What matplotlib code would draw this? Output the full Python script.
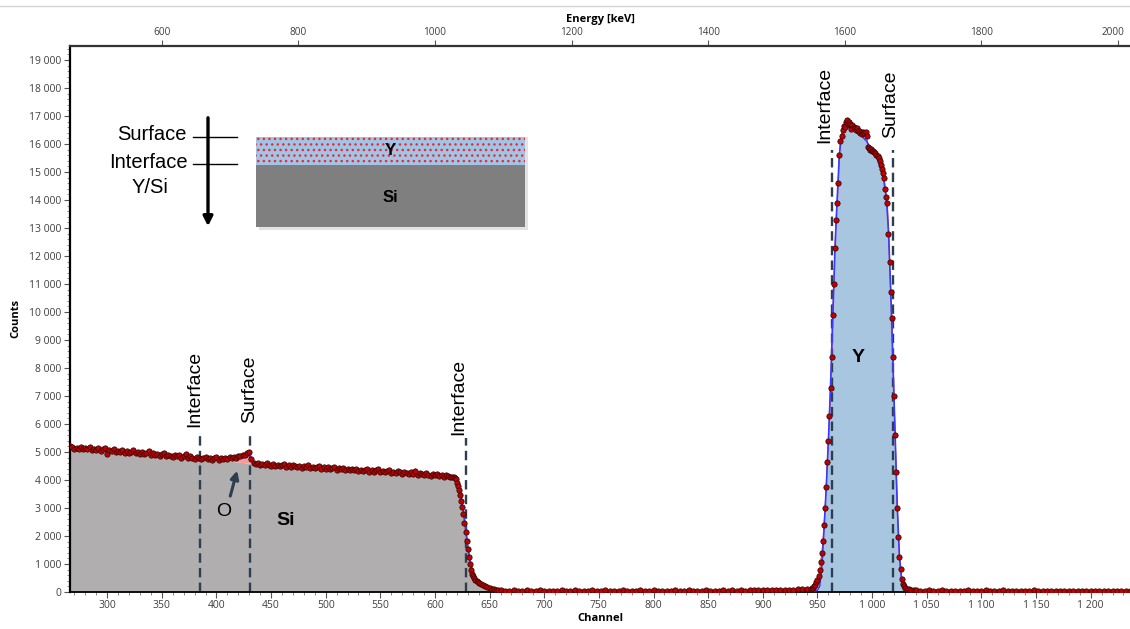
import numpy as np
import matplotlib.pyplot as plt
from matplotlib.patches import Rectangle
from matplotlib.lines import Line2D
from matplotlib.ticker import MultipleLocator, FuncFormatter
from matplotlib.transforms import ScaledTranslation

# ---- measured spectrum (channel, counts) ----
si_ch = list(range(266, 618, 2))
si_counts = [
    5230, 5180, 5120, 5160, 5100, 5170, 5090, 5140, 5110, 5170,
    5060, 5120, 5080, 5150, 5040, 5100, 5130, 4930, 5070, 5020,
    5090, 4990, 5040, 5000, 5060, 4980, 5030, 4960, 5010, 5070,
    4950, 5000, 4940, 4990, 4920, 4970, 5020, 4900, 4960, 4880,
    4940, 4870, 4920, 4960, 4850, 4910, 4860, 4830, 4900, 4840,
    4880, 4800, 4860, 4920, 4790, 4850, 4800, 4760, 4830, 4770,
    4740, 4790, 4830, 4750, 4800, 4720, 4770, 4810, 4730, 4780,
    4750, 4800, 4760, 4810, 4780, 4830, 4800, 4850, 4870, 4880,
    4900, 4950, 5000, 4760, 4620, 4570, 4600, 4540, 4580, 4520,
    4590, 4540, 4510, 4560, 4500, 4550, 4490, 4530, 4570, 4480,
    4520, 4470, 4540, 4490, 4460, 4510, 4440, 4500, 4470, 4530,
    4430, 4480, 4420, 4470, 4500, 4410, 4460, 4400, 4450, 4380,
    4430, 4470, 4370, 4420, 4380, 4440, 4360, 4400, 4340, 4390,
    4350, 4410, 4330, 4370, 4310, 4360, 4400, 4300, 4350, 4290,
    4340, 4380, 4280, 4330, 4270, 4320, 4360, 4260, 4300, 4250,
    4310, 4270, 4220, 4290, 4240, 4200, 4270, 4230, 4320, 4190,
    4240, 4210, 4180, 4250, 4190, 4150, 4220, 4170, 4200, 4140,
    4180, 4120, 4170, 4130, 4090, 4120,
]

edge_ch = [617, 618, 619, 620, 621, 622, 623, 624, 625, 626, 627, 628, 629, 630,
           631, 632, 633, 634, 635, 636, 637, 638, 639, 640, 642, 644, 646, 648,
           650, 652, 654, 656, 658, 660]
edge_counts = [4100, 4080, 4020, 3900, 3780, 3640, 3480, 3260, 3020, 2800, 2480,
               2150, 1820, 1520, 1240, 1000, 800, 660, 560, 490, 430, 390, 350,
               320, 280, 240, 210, 180, 150, 120, 100, 85, 70, 60]

gap_ch = list(range(664, 945, 4))
gap_counts = [52, 45, 58, 40, 49, 55, 43, 50, 61, 44, 47, 53, 39, 56, 48, 42,
              57, 46, 51, 44, 60, 41, 49, 54, 45, 50, 38, 58, 47, 52, 43, 55,
              49, 41, 57, 46, 53, 44, 50, 59, 42, 48, 55, 45, 51, 40, 56, 47,
              53, 44, 58, 49, 62, 46, 55, 50, 64, 57, 70, 61, 66, 72, 68, 75,
              80, 78, 85, 90, 98, 105, 115]

peak_ch = list(range(945, 1031)) + [1032, 1034, 1036, 1038]
peak_counts = [
    130, 160, 200, 260, 340, 430, 560, 780, 1080, 1400,
    1820, 2400, 3000, 3750, 4650, 5400, 6300, 7300, 8400, 9900,
    11000, 12300, 13300, 13900, 14600, 15600, 16100, 16300, 16500, 16650,
    16600, 16800, 16850, 16700, 16780, 16720, 16550, 16680, 16620, 16580,
    16500, 16560, 16450, 16480, 16400, 16430, 16350, 16440, 16380, 16420,
    16300, 15900, 15850, 15780, 15820, 15760, 15740, 15700, 15680, 15600,
    15560, 15500, 15380, 15250, 15100, 14950, 14780, 14400, 14100, 13900,
    12800, 11800, 10700, 9800, 8400, 7000, 5600, 4300, 3000, 1950,
    1250, 820, 480, 300, 200, 150, 110, 90, 75, 65,
]

tail_ch = list(range(1040, 1237, 4))
tail_counts = [58, 52, 47, 55, 44, 50, 57, 42, 49, 53, 46, 40, 55, 48, 51, 43,
               56, 45, 50, 38, 54, 47, 42, 52, 45, 49, 41, 55, 46, 50, 39, 53,
               44, 48, 42, 51, 45, 40, 49, 43, 52, 41, 47, 44, 38, 50, 42, 46,
               40, 45]

# ---- simulation (total) ----
sim_ch = [266, 300, 350, 385, 400, 410, 420, 425, 430, 432, 434, 436, 450, 500,
          550, 600, 612, 617, 620, 623, 626, 628, 630, 632, 634, 636, 640, 645,
          650, 655, 660, 700, 800, 900, 948, 950, 952, 954, 956, 958, 960, 962,
          964, 966, 968, 970, 972, 975, 980, 985, 990, 995, 1000, 1005, 1010,
          1013, 1015, 1017, 1019, 1021, 1023, 1025, 1027, 1029, 1032, 1036,
          1050, 1236]
sim_counts = [5150, 5030, 4870, 4760, 4740, 4760, 4800, 4850, 4920, 4780, 4620,
              4580, 4550, 4420, 4310, 4180, 4140, 4080, 3950, 3550, 2900, 2300,
              1650, 1150, 800, 580, 380, 230, 130, 80, 50, 45, 45, 45, 45, 60,
              200, 900, 2200, 3700, 5400, 7400, 9800, 12200, 14000, 15600,
              16300, 16550, 16600, 16450, 16300, 16100, 15750, 15450, 14900,
              14100, 12900, 10800, 8300, 5700, 3100, 1300, 450, 180, 80, 50,
              45, 45]

# ---- components ----
si_comp_ch = [266, 300, 350, 385, 395, 400, 410, 420, 425, 430, 432, 434, 436,
              450, 500, 550, 600, 612, 617, 620, 623, 626, 628, 630, 632, 634,
              636, 640, 645, 650, 655, 660, 670]
si_comp_counts = [5150, 5030, 4870, 4760, 4745, 4720, 4680, 4640, 4620, 4600,
                  4590, 4585, 4580, 4550, 4420, 4310, 4180, 4140, 4080, 3950,
                  3550, 2900, 2300, 1650, 1150, 800, 580, 380, 230, 130, 80,
                  50, 0]
o_ch = [395, 400, 410, 420, 425, 430, 432, 434, 436]
o_top = [4750, 4740, 4760, 4800, 4850, 4920, 4780, 4620, 4580]
o_bottom = [4745, 4720, 4680, 4640, 4620, 4600, 4590, 4585, 4580]
y_comp_ch = [948, 950, 952, 954, 956, 958, 960, 962, 964, 966, 968, 970, 972,
             975, 980, 985, 990, 995, 1000, 1005, 1010, 1013, 1015, 1017, 1019,
             1021, 1023, 1025, 1027, 1029, 1032, 1036]
y_comp_counts = [0, 20, 160, 860, 2160, 3660, 5360, 7360, 9760, 12160, 13960,
                 15560, 16260, 16510, 16560, 16410, 16260, 16060, 15710, 15410,
                 14860, 14060, 12860, 10760, 8260, 5660, 3060, 1260, 410, 140,
                 30, 0]

# ---- annotations ----
marker_ch = [385, 431, 628, 963, 1019]
marker_top = [5640, 5640, 5500, 15790, 15790]
label_txt = ['Interface', 'Surface', 'Interface', 'Interface', 'Surface']
label_ch = [380, 430, 622, 957, 1017]
label_y = [5890, 6040, 5610, 16040, 16210]

W, H = 1130, 629
fig = plt.figure(figsize=(W / 100, H / 100), dpi=100)
ax = fig.add_axes([70 / W, 1 - 592 / H, (W - 70) / W, (592 - 46) / H])

ax.fill_between(si_comp_ch, si_comp_counts, color='#b0aeae', lw=0, zorder=1)
ax.fill_between(o_ch, o_bottom, o_top, color='#f59a9a', lw=0, zorder=1)
ax.fill_between(y_comp_ch, y_comp_counts, color='#a9c6e0', lw=0, zorder=1)

dash_col = '#2c3e50'
for c, t in zip(marker_ch, marker_top):
    ax.plot([c, c], [0, t], color=dash_col, lw=1.7, ls=(0, (4, 2.2)), zorder=2)

all_ch = si_ch + edge_ch + gap_ch + peak_ch + tail_ch
all_counts = si_counts + edge_counts + gap_counts + peak_counts + tail_counts
ax.plot(all_ch, all_counts, color='#ff3b3b', lw=0.8, zorder=3)
ax.plot(sim_ch, sim_counts, color='#3a3aff', lw=1.2, zorder=4)
ax.plot(all_ch, all_counts, ls='none', marker='o', ms=3.8, mfc='#c00000',
        mec='#3a0a0a', mew=0.6, zorder=5)

lab_font = dict(family='Liberation Sans', fontsize=14)
for c, y, t in zip(label_ch, label_y, label_txt):
    ax.text(c, y, t, rotation=90, ha='center', va='bottom', **lab_font)

ax.text(407, 2860, 'O', ha='center', va='center', **lab_font)
ax.annotate('', xy=(419.6, 4430), xytext=(412, 3330),
            arrowprops=dict(arrowstyle='-|>', color=dash_col, lw=2.2,
                            mutation_scale=12))
ax.text(463, 2570, 'Si', ha='center', va='center', fontweight='bold', **lab_font)
ax.text(987, 8360, 'Y', ha='center', va='center', fontweight='bold', **lab_font)

# axes styling
ax.set_xlim(266, 1236)
ax.set_ylim(0, 19500)
ax.spines['right'].set_visible(False)
ax.spines['left'].set_linewidth(1.6)
ax.spines['bottom'].set_linewidth(1.3)
ax.spines['top'].set_linewidth(1.6)
ax.spines['top'].set_color('#333333')

sp = lambda v, p: f'{int(v):,}'.replace(',', ' ')
ax.yaxis.set_major_locator(MultipleLocator(1000))
ax.yaxis.set_minor_locator(MultipleLocator(200))
ax.yaxis.set_major_formatter(FuncFormatter(sp))
ax.xaxis.set_major_locator(MultipleLocator(50))
ax.xaxis.set_minor_locator(MultipleLocator(10))
ax.xaxis.set_major_formatter(FuncFormatter(sp))
tick_font = dict(labelsize=7.5, labelcolor='#404040', color='#555555')
ax.tick_params(axis='both', which='major', length=4, width=0.8, pad=2, **tick_font)
ax.tick_params(axis='both', which='minor', length=2, width=0.6, color='#777777')
for lbl in ax.get_xticklabels() + ax.get_yticklabels():
    lbl.set_family('Open Sans')

ax.set_xlabel('Channel', family='Open Sans', fontsize=8, fontweight='bold', labelpad=1)
ax.set_ylabel('Counts', family='Open Sans', fontsize=8, fontweight='bold', labelpad=6)

sec = ax.secondary_xaxis('top', functions=(lambda c: 1.6 * c + 40,
                                           lambda e: (e - 40) / 1.6))
sec.xaxis.set_major_locator(MultipleLocator(200))
sec.tick_params(length=4, width=0.8, pad=2, labelsize=7.2, labelcolor='#404040',
                color='#555555')
sec.spines['top'].set_visible(False)
for lbl in sec.get_xticklabels():
    lbl.set_family('Open Sans')
sec.set_xlabel('Energy [keV]', family='Open Sans', fontsize=8,
               fontweight='bold', labelpad=3)

# keep the last energy label ("2000") inside the picture
fig.canvas.draw()
for lbl in sec.xaxis.get_ticklabels():
    if lbl.get_text() == '2000':
        lbl.set_transform(lbl.get_transform()
                          + ScaledTranslation(-5 / 100, 0, fig.dpi_scale_trans))

# ---- schematic inset (figure pixel coordinates) ----
fx = lambda px: px / W
fy = lambda py: 1 - py / H
fig.add_artist(Line2D([0, 1], [fy(6), fy(6)], color='#d5d5d5', lw=1))
fig.add_artist(Rectangle((fx(259), fy(230)), fx(269), 93 / H, color='#d0d0d0',
                         alpha=0.6, lw=0))
fig.add_artist(Rectangle((fx(256), fy(227)), fx(269), 62 / H, color='#7f7f7f', lw=0))
fig.add_artist(Rectangle((fx(256), fy(165)), fx(269), 28 / H, facecolor='#a3c4e6',
                         edgecolor='#e03030', hatch='...', lw=0))
txt = dict(family='Liberation Sans', fontsize=14.5)
fig.text(fx(390), fy(151), 'Y', ha='center', va='center', fontweight='bold',
         family='Liberation Sans', fontsize=12)
fig.text(fx(390), fy(197), 'Si', ha='center', va='center', fontweight='bold',
         family='Liberation Sans', fontsize=12)
fig.text(fx(187), fy(134), 'Surface', ha='right', va='center', **txt)
fig.text(fx(188), fy(163), 'Interface', ha='right', va='center', **txt)
fig.text(fx(150), fy(187), 'Y/Si', ha='center', va='center', **txt)
fig.add_artist(Line2D([fx(193), fx(237)], [fy(137), fy(137)], color='black', lw=1))
fig.add_artist(Line2D([fx(193), fx(237)], [fy(164), fy(164)], color='black', lw=1))
fig.add_artist(plt.Annotation('', xy=(fx(208), fy(229)), xytext=(fx(208), fy(115)),
                              xycoords='figure fraction',
                              arrowprops=dict(arrowstyle='-|>', color='black',
                                              lw=2.4, mutation_scale=14)))

fig.savefig('out.png', dpi=100)
